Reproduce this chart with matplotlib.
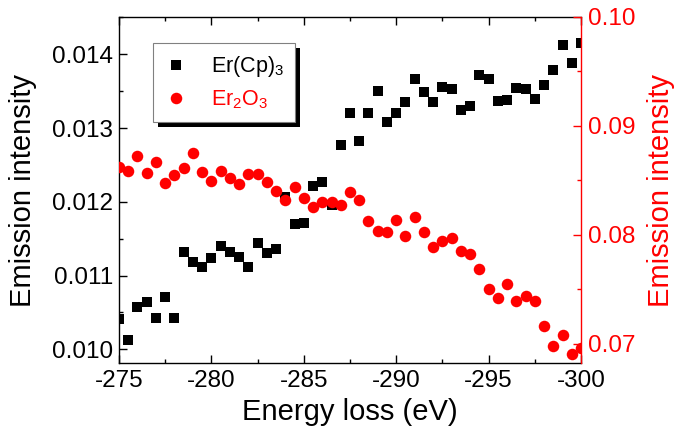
import numpy as np
import matplotlib
matplotlib.use('Agg')
import matplotlib.pyplot as plt
from matplotlib.ticker import MultipleLocator, FormatStrFormatter
from matplotlib.patches import Rectangle

plt.rcParams['font.family'] = ['Liberation Sans', 'DejaVu Sans']
plt.rcParams['mathtext.default'] = 'regular'
plt.rcParams['axes.unicode_minus'] = False

# Energy loss (eV)
energia = [-275.0, -275.5, -276.0, -276.5, -277.0, -277.5, -278.0, -278.5, -279.0, -279.5,
           -280.0, -280.5, -281.0, -281.5, -282.0, -282.5, -283.0, -283.5, -284.0, -284.5,
           -285.0, -285.5, -286.0, -286.5, -287.0, -287.5, -288.0, -288.5, -289.0, -289.5,
           -290.0, -290.5, -291.0, -291.5, -292.0, -292.5, -293.0, -293.5, -294.0, -294.5,
           -295.0, -295.5, -296.0, -296.5, -297.0, -297.5, -298.0, -298.5, -299.0, -299.5,
           -300.0]

# Er(Cp)3 - eixo da esquerda
er_cp3 = [0.01041, 0.01012, 0.01058, 0.01064, 0.01043, 0.01071, 0.01042, 0.01132, 0.01118, 0.01112,
          0.01124, 0.01140, 0.01132, 0.01125, 0.01112, 0.01144, 0.01131, 0.01136, 0.01206, 0.01170,
          0.01171, 0.01222, 0.01227, 0.01196, 0.01277, 0.01321, 0.01283, 0.01321, 0.01350, 0.01308,
          0.01320, 0.01336, 0.01367, 0.01349, 0.01336, 0.01356, 0.01353, 0.01325, 0.01330, 0.01372,
          0.01367, 0.01337, 0.01338, 0.01355, 0.01353, 0.01339, 0.01359, 0.01379, 0.01413, 0.01388,
          0.01415]

# Er2O3 - eixo da direita
er2o3 = [0.08625, 0.08588, 0.08726, 0.08564, 0.08665, 0.08478, 0.08546, 0.08610, 0.08751, 0.08576,
         0.08493, 0.08588, 0.08518, 0.08463, 0.08555, 0.08555, 0.08487, 0.08401, 0.08318, 0.08438,
         0.08337, 0.08251, 0.08303, 0.08297, 0.08275, 0.08392, 0.08316, 0.08125, 0.08033, 0.08027,
         0.08132, 0.07984, 0.08162, 0.08021, 0.07889, 0.07944, 0.07969, 0.07852, 0.07819, 0.07681,
         0.07506, 0.07423, 0.07546, 0.07389, 0.07438, 0.07392, 0.07159, 0.06978, 0.07079, 0.06904,
         0.06963]

fig = plt.figure(figsize=(6.84, 4.37), dpi=100)
ax1 = fig.add_axes([0.174, 0.1686, 0.6754, 0.7931])
ax2 = ax1.twinx()

l1, = ax1.plot(energia, er_cp3, 's', color='black', markersize=7, markeredgewidth=0,
               label=r'Er(Cp)$_3$')
l2, = ax2.plot(energia, er2o3, 'o', color='red', markersize=8.3, markeredgewidth=0,
               label=r'Er$_2$O$_3$')

ax1.set_xlim(-275, -300)
ax1.set_ylim(0.00981, 0.01451)
ax2.set_ylim(0.0682, 0.1)

ax1.xaxis.set_major_locator(MultipleLocator(5))
ax1.xaxis.set_minor_locator(MultipleLocator(2.5))
ax1.yaxis.set_major_locator(MultipleLocator(0.001))
ax1.yaxis.set_minor_locator(MultipleLocator(0.0005))
ax1.yaxis.set_major_formatter(FormatStrFormatter('%.3f'))
ax2.yaxis.set_major_locator(MultipleLocator(0.01))
ax2.yaxis.set_minor_locator(MultipleLocator(0.005))
ax2.yaxis.set_major_formatter(FormatStrFormatter('%.2f'))

for ax in (ax1, ax2):
    for s in ax.spines.values():
        s.set_linewidth(1.0)
ax1.spines['right'].set_visible(False)
ax2.spines['right'].set_color('red')
ax2.spines['left'].set_visible(False)
ax2.spines['top'].set_visible(False)
ax2.spines['bottom'].set_visible(False)

ax1.tick_params(which='both', direction='in', top=True, right=False, width=1.0, labelsize=17.5)
ax1.tick_params(which='major', length=6)
ax1.tick_params(which='minor', length=3)
ax1.tick_params(axis='x', pad=5)
ax1.tick_params(axis='y', pad=4)
ax2.tick_params(which='both', direction='in', colors='red', width=1.0, labelsize=17.5, pad=5)
ax2.tick_params(which='major', length=6)
ax2.tick_params(which='minor', length=3)

ax1.set_xlabel('Energy loss (eV)', fontsize=21, labelpad=4)
ax1.set_ylabel('Emission intensity', fontsize=21, labelpad=11)
ax2.set_ylabel('Emission intensity', fontsize=21, color='red', labelpad=8)

leg = ax2.legend(handles=[l1, l2], loc='upper left', bbox_to_anchor=(0.073, 0.923),
                 borderaxespad=0, fontsize=15.5, numpoints=1, fancybox=False,
                 edgecolor='#808080', framealpha=1, handlelength=1.2, handletextpad=1.0,
                 borderpad=0.5, labelspacing=0.45)
leg.get_frame().set_linewidth(0.8)
leg.get_texts()[1].set_color('red')
leg.set_zorder(10)

# sombra preta da legenda
fig.canvas.draw()
bb = leg.get_window_extent().transformed(ax2.transAxes.inverted())
dx = 5 / (0.6754 * 684)
dy = 5 / (0.7931 * 437)
sombra = Rectangle((bb.x0 + dx, bb.y0 - dy), bb.width, bb.height, transform=ax2.transAxes,
                   facecolor='black', edgecolor='none', zorder=9, clip_on=False)
ax2.add_patch(sombra)

fig.savefig('out.png', dpi=100)
